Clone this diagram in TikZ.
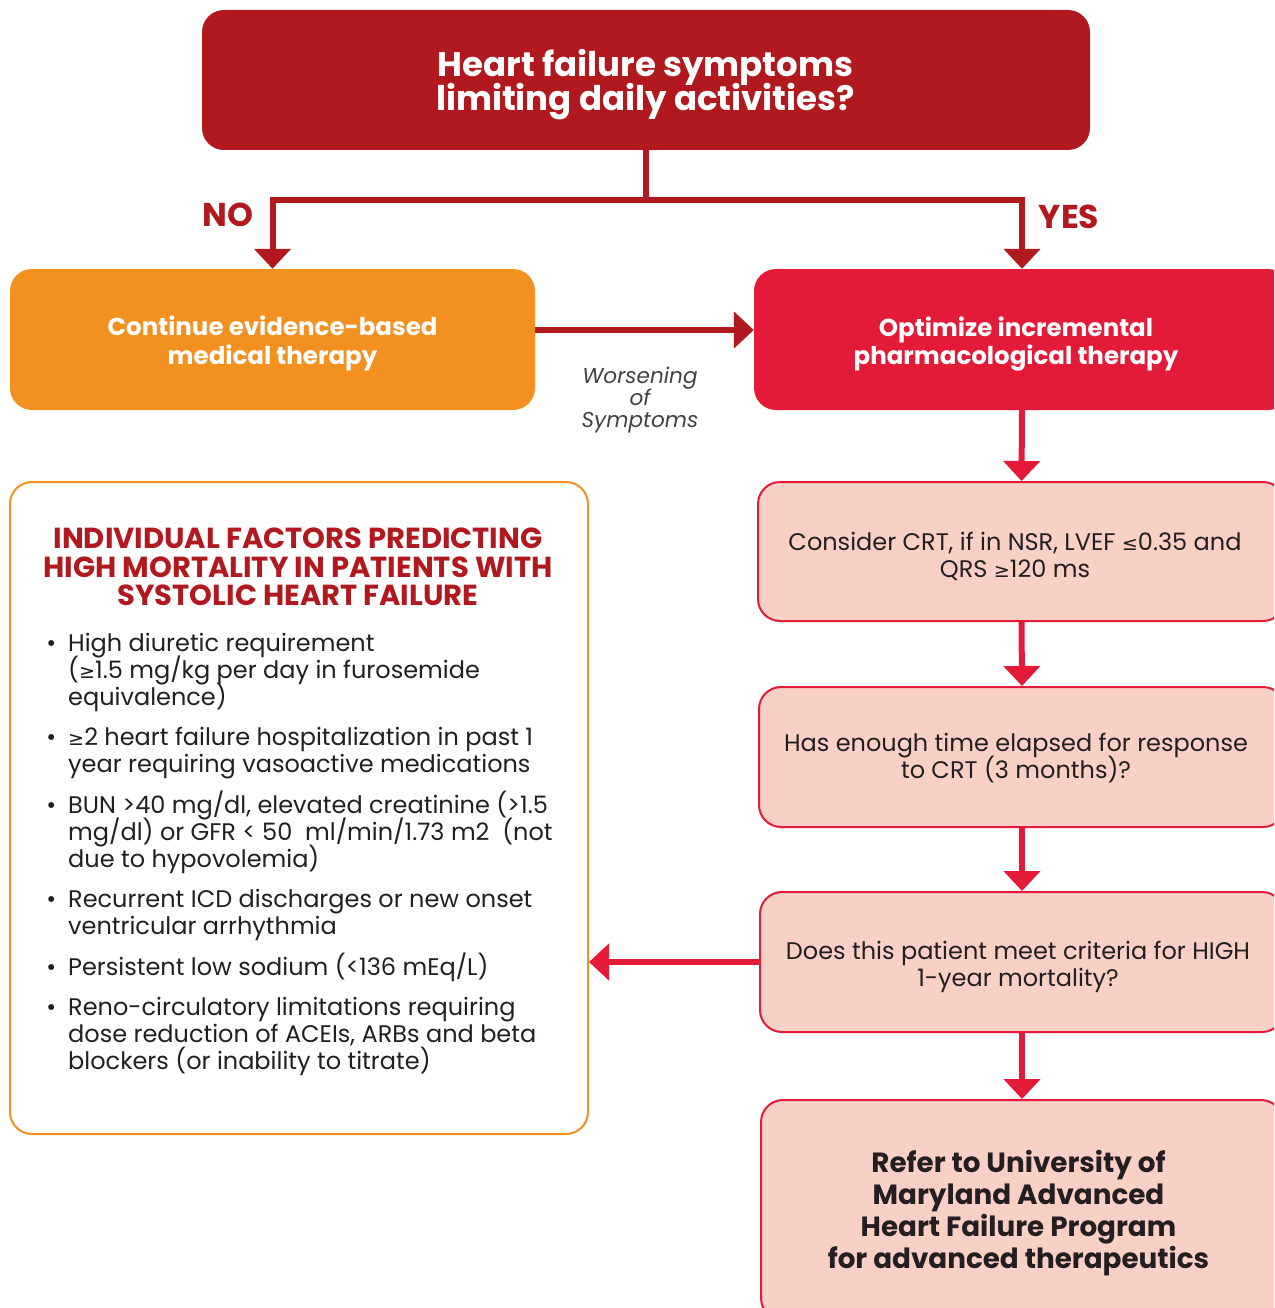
\documentclass[tikz,border=0pt]{standalone}
\usepackage{fontspec}
\setmainfont{Poppins}
\newfontfamily\symf[Scale=0.8]{DejaVu Sans}
\usetikzlibrary{arrows.meta}
\definecolor{dred}{HTML}{B1191E}
\definecolor{ora}{HTML}{F39120}
\definecolor{bred}{HTML}{E41B38}
\definecolor{pinkf}{HTML}{F8D0C6}
\definecolor{txt}{HTML}{231F20}
\newcommand{\gesym}{{\symf ≥}}
\newcommand{\lesym}{{\symf ≤}}
\newcommand{\fs}[2]{\fontsize{#1}{#2}\selectfont\lineskiplimit=-100pt\relax}
\newcommand{\bul}{\llap{•\hspace{12pt}}}
\begin{document}
\begin{tikzpicture}[x=1pt,y=-1pt,
  box/.style={rounded corners=22pt, inner sep=0pt},
  pbox/.style={box, fill=pinkf, draw=bred, line width=2pt},
  tw/.style={inner sep=0pt, align=center},
  ptxt/.style={tw, text=txt, font=\fs{24}{27}},
  darr/.style={dred, line width=6pt, -{Triangle[width=36pt,length=20pt]}},
  rarr/.style={bred, line width=6pt, -{Triangle[width=36pt,length=20pt]}},
  lbl/.style={text=dred, font=\fs{33}{36}\bfseries}
]
\useasboundingbox (0,0) rectangle (1274,1308);
\clip (0,0) rectangle (1274,1308);

% boxes
\node[box, fill=dred, minimum width=888pt, minimum height=140pt] (top) at (646,80) {};
\node[box, fill=ora, minimum width=525pt, minimum height=141pt] (cont) at (272.5,339.5) {};
\node[box, fill=bred, minimum width=536pt, minimum height=141pt] (opt) at (1022,339.5) {};
\node[pbox, minimum width=527pt, minimum height=139pt] (crt) at (1021.5,551.5) {};
\node[pbox, minimum width=526pt, minimum height=140pt] (time) at (1022,757) {};
\node[pbox, minimum width=524pt, minimum height=140pt] (mort) at (1022,962) {};
\node[pbox, minimum width=522pt, minimum height=220pt] (refer) at (1022,1210) {};
\node[box, draw=ora, line width=2pt, fill=white, minimum width=578pt, minimum height=652pt] (lbox) at (299,808) {};

% texts
\node[tw, text=white, font=\fs{34}{34.5}\bfseries] (top-t) at (645.5,84.5)
  {Heart failure symptoms\\limiting daily activities?};
\node[tw, text=white, font=\fs{24.5}{29}\bfseries] (cont-t) at (272.5,343)
  {Continue evidence-based\\medical therapy};
\node[tw, text=white, font=\fs{24.5}{28}\bfseries] (opt-t) at (1016,344.5)
  {Optimize incremental\\pharmacological therapy};
\node[ptxt] (crt-t) at (1015,556)
  {Consider CRT, if in NSR, LVEF \lesym0.35 and\\QRS \gesym120 ms};
\node[ptxt] (time-t) at (1016,758)
  {Has enough time elapsed for response\\to CRT (3 months)?};
\node[ptxt] (mort-t) at (1018,967)
  {Does this patient meet criteria for HIGH\\1-year mortality?};
\node[tw, text=txt, font=\fs{27.8}{32}\bfseries] (refer-t) at (1018.5,1213)
  {Refer to University of\\Maryland Advanced\\Heart Failure Program\\for advanced therapeutics};

\node[tw, text=dred, font=\fs{29}{28.5}\bfseries] (ltitle) at (298,567)
  {INDIVIDUAL FACTORS PREDICTING\\HIGH MORTALITY IN PATIENTS WITH\\SYSTOLIC HEART FAILURE};

\node[anchor=north west, inner sep=0pt, align=left, text=txt, font=\fs{24}{27}] (list) at (68,626)
  {\rule{0pt}{25pt}\bul High diuretic requirement\\
   (\gesym1.5 mg/kg per day in furosemide\\
   equivalence)\\[13.5pt]
   \bul\gesym2 heart failure hospitalization in past 1\\
   year requiring vasoactive medications\\[13.5pt]
   \bul BUN >40 mg/dl, elevated creatinine (>1.5\\
   mg/dl) or GFR < 50\ \ ml/min/1.73 m2\ \ (not\\
   due to hypovolemia)\\[13.5pt]
   \bul Recurrent ICD discharges or new onset\\
   ventricular arrhythmia\\[13.5pt]
   \bul Persistent low sodium (<136 mEq/L)\\[13.5pt]
   \bul Reno-circulatory limitations requiring\\
   dose reduction of ACEIs, ARBs and beta\\
   blockers (or inability to titrate)};

% connectors
\coordinate (split) at (646,200);
\draw[dred, line width=6pt] (top.south) -- (split);
\draw[darr] (split) -| (cont.north);
\draw[darr] (split) -| (opt.north);
\node[lbl] (no) at (228,215) {NO};
\node[lbl] (yes) at (1069,217) {YES};

\draw[darr] ([yshift=9.5pt]cont.east) -- ([yshift=9.5pt]opt.west);
\node[tw, text=txt!85, font=\fs{21.6}{22}\itshape] (wors) at (640,400.5)
  {Worsening\\of\\Symptoms};

\draw[rarr] (opt.south) -- (crt.north);
\draw[rarr] (crt.south) -- (time.north);
\draw[rarr] (time.south) -- (mort.north);
\draw[rarr] (mort.south) -- (refer.north);
\draw[rarr] (mort.west) -- (mort.west -| lbox.east);
\end{tikzpicture}
\end{document}
